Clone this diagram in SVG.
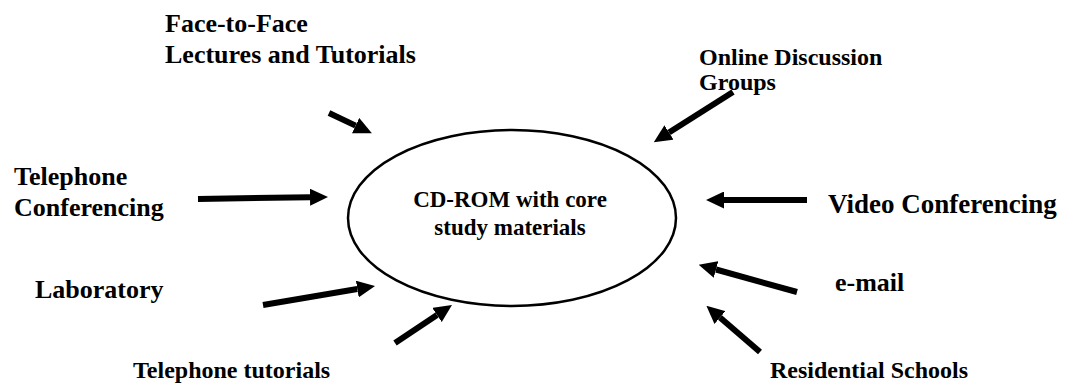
<svg xmlns="http://www.w3.org/2000/svg" width="1083" height="385" viewBox="0 0 1083 385">
<style>
.lbl{font-family:"Liberation Serif","Times New Roman",serif;font-weight:bold;font-size:26px;fill:#000}
.sm{font-size:24px}
.lg{font-size:27px}
.ctr{font-family:"Liberation Serif","Times New Roman",serif;font-weight:bold;font-size:23px;fill:#000}
.shaft{stroke:#000;stroke-width:6;fill:none}
</style>
<defs>
<marker id="ah" markerUnits="userSpaceOnUse" markerWidth="18" markerHeight="17" refX="0" refY="8.5" orient="auto" viewBox="0 0 18 17">
<path d="M0,0 L18,8.5 L0,17 Z" fill="#000"/>
</marker>
</defs>
<rect width="1083" height="385" fill="#fff"/>
<g id="core">
<ellipse cx="512" cy="218" rx="164" ry="88" fill="none" stroke="#000" stroke-width="2.5"/>
<text class="ctr" x="510" y="207" text-anchor="middle">CD-ROM with core</text>
<text class="ctr" x="510" y="235" text-anchor="middle">study materials</text>
</g>
<g id="face-to-face"><text class="lbl" x="165" y="32">Face-to-Face</text><text class="lbl" x="165" y="63">Lectures and Tutorials</text></g>
<g id="online"><text class="lbl sm" x="699" y="65">Online Discussion</text><text class="lbl sm" x="699" y="90">Groups</text></g>
<g id="telconf"><text class="lbl" x="14" y="185">Telephone</text><text class="lbl" x="14" y="216">Conferencing</text></g>
<g id="video"><text class="lbl lg" x="828" y="213">Video Conferencing</text></g>
<g id="email"><text class="lbl" x="835" y="291">e-mail</text></g>
<g id="lab"><text class="lbl" x="35" y="298">Laboratory</text></g>
<g id="teltut"><text class="lbl sm" x="133" y="378">Telephone tutorials</text></g>
<g id="residential"><text class="lbl sm" x="770" y="378">Residential Schools</text></g>
<g id="connectors">
<line class="shaft" x1="329" y1="113" x2="355.6" y2="125.6" marker-end="url(#ah)"/>
<line class="shaft" x1="198" y1="199" x2="310" y2="197.2" marker-end="url(#ah)"/>
<line class="shaft" x1="263" y1="305" x2="357.3" y2="289" marker-end="url(#ah)"/>
<line class="shaft" x1="395" y1="343" x2="437" y2="315" marker-end="url(#ah)"/>
<line class="shaft" x1="733" y1="92" x2="669" y2="132.5" marker-end="url(#ah)"/>
<line class="shaft" x1="807" y1="200" x2="724" y2="200" marker-end="url(#ah)"/>
<line class="shaft" x1="797" y1="292" x2="716" y2="269.5" marker-end="url(#ah)"/>
<line class="shaft" x1="760" y1="352" x2="720" y2="317.5" marker-end="url(#ah)"/>
</g>
</svg>
